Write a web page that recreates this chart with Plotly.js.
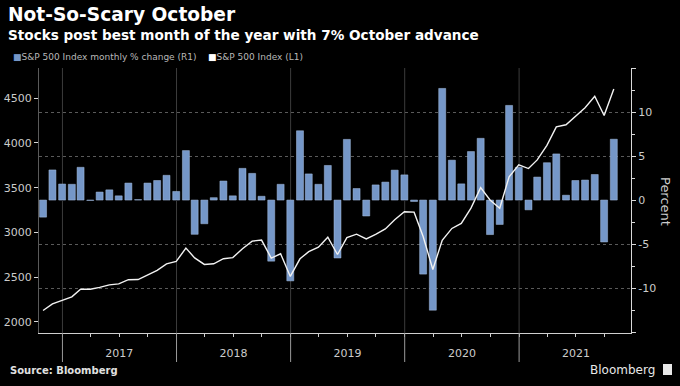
<!DOCTYPE html>
<html>
<head>
<meta charset="utf-8">
<script src="https://cdn.plot.ly/plotly-3.0.1.min.js"></script>
<style>
  html, body { margin: 0; padding: 0; background: #000; }
  #chart { width: 680px; height: 386px; }
</style>
</head>
<body>
<div id="chart"></div>
<script>
// ---- Data (month-end) ----
const months = [
  '2016-10-31','2016-11-30','2016-12-31',
  '2017-01-31','2017-02-28','2017-03-31','2017-04-30','2017-05-31','2017-06-30',
  '2017-07-31','2017-08-31','2017-09-30','2017-10-31','2017-11-30','2017-12-31',
  '2018-01-31','2018-02-28','2018-03-31','2018-04-30','2018-05-31','2018-06-30',
  '2018-07-31','2018-08-31','2018-09-30','2018-10-31','2018-11-30','2018-12-31',
  '2019-01-31','2019-02-28','2019-03-31','2019-04-30','2019-05-31','2019-06-30',
  '2019-07-31','2019-08-31','2019-09-30','2019-10-31','2019-11-30','2019-12-31',
  '2020-01-31','2020-02-29','2020-03-31','2020-04-30','2020-05-31','2020-06-30',
  '2020-07-31','2020-08-31','2020-09-30','2020-10-31','2020-11-30','2020-12-31',
  '2021-01-31','2021-02-28','2021-03-31','2021-04-30','2021-05-31','2021-06-30',
  '2021-07-31','2021-08-31','2021-09-30','2021-10-31'
];
// S&P 500 Index monthly % change (R1)
const pctChange = [
  -1.94, 3.42, 1.82,
  1.79, 3.72, -0.04, 0.91, 1.16, 0.48,
  1.93, 0.05, 1.93, 2.22, 2.81, 0.98,
  5.62, -3.89, -2.69, 0.27, 2.16, 0.48,
  3.60, 3.03, 0.43, -6.94, 1.79, -9.18,
  7.87, 2.97, 1.79, 3.93, -6.58, 6.89,
  1.31, -1.81, 1.72, 2.04, 3.40, 2.86,
  -0.16, -8.41, -12.51, 12.68, 4.53, 1.84,
  5.51, 7.01, -3.92, -2.77, 10.75, 3.71,
  -1.11, 2.61, 4.24, 5.24, 0.55, 2.22,
  2.27, 2.90, -4.76, 6.91
];
// S&P 500 Index (L1)
const spxIndex = [
  2126, 2199, 2239,
  2279, 2364, 2363, 2384, 2412, 2423,
  2470, 2472, 2519, 2575, 2648, 2674,
  2824, 2714, 2641, 2648, 2705, 2718,
  2816, 2902, 2914, 2712, 2760, 2507,
  2704, 2784, 2834, 2946, 2752, 2942,
  2980, 2926, 2977, 3038, 3141, 3231,
  3226, 2954, 2585, 2912, 3044, 3100,
  3271, 3500, 3363, 3270, 3622, 3756,
  3714, 3811, 3973, 4181, 4204, 4298,
  4395, 4523, 4308, 4605
];
const years = [2017, 2018, 2019, 2020, 2021];
const leftTicks = [2000, 2500, 3000, 3500, 4000, 4500];
const rightTicks = [-15, -10, -5, 0, 5, 10, 15];
const rightTickText = ['', '-10', '-5', '0', '5', '10', ''];

const titleText = 'Not-So-Scary October';
const subtitleText = 'Stocks post best month of the year with 7% October advance';
const seriesBarName = 'S&P 500 Index monthly % change (R1)';
const seriesLineName = 'S&P 500 Index (L1)';

// ---- Layout helpers (pixel -> paper) ----
const W = 680, H = 386;
const M = { l: 39, r: 49, t: 68, b: 53 };
const PW = W - M.l - M.r, PH = H - M.t - M.b;
const px = x => (x - M.l) / PW;
const py = y => (H - M.b - y) / PH;

const BAR = '#7597c8';
const FONT = 'DejaVu Sans';

const traces = [
  {
    type: 'bar', x: months, y: pctChange, yaxis: 'y', name: seriesBarName,
    marker: { color: BAR, line: { color: '#a8c0e2', width: 0.5 } },
    showlegend: false
  },
  {
    type: 'scatter', mode: 'lines', x: months, y: spxIndex, yaxis: 'y2', name: seriesLineName,
    line: { color: '#f2f2f2', width: 1.4 },
    showlegend: false
  }
];

const shapes = [];
years.forEach(y => {
  shapes.push({ type: 'line', xref: 'x', yref: 'paper', x0: y + '-01-01', x1: y + '-01-01',
    y0: 0, y1: 1, line: { color: '#3c3c3c', width: 1 }, layer: 'below' });
  shapes.push({ type: 'line', xref: 'x', yref: 'paper', x0: y + '-01-01', x1: y + '-01-01',
    y0: py(362), y1: 0, line: { color: '#9a9a9a', width: 1 } });
});
// Bloomberg logo box
shapes.push({ type: 'rect', xref: 'paper', yref: 'paper', x0: px(663), x1: px(672), y0: py(375), y1: py(364),
  fillcolor: '#e8e8e8', line: { width: 0 } });

const annotations = [
  { text: '<b>' + titleText + '</b>', x: px(6), y: py(14.5), xanchor: 'left', yanchor: 'middle',
    font: { family: FONT, size: 18.6, color: '#ffffff' } },
  { text: '<b>' + subtitleText + '</b>', x: px(6), y: py(35), xanchor: 'left', yanchor: 'middle',
    font: { family: FONT, size: 13.6, color: '#ffffff' } },
  { text: '<span style="color:' + BAR + '">■</span>' + seriesBarName, x: px(11), y: py(57.5),
    xanchor: 'left', yanchor: 'middle', font: { family: FONT, size: 9, color: '#b8b8b8' } },
  { text: '<span style="color:#ffffff">■</span>' + seriesLineName, x: px(206), y: py(57.5),
    xanchor: 'left', yanchor: 'middle', font: { family: FONT, size: 9, color: '#b8b8b8' } },
  { text: 'Percent', x: px(666), y: py(201), xanchor: 'center', yanchor: 'middle', textangle: 90,
    font: { family: FONT, size: 13, color: '#cccccc' } },
  { text: '<b>Source: Bloomberg</b>', x: px(8), y: py(370), xanchor: 'left', yanchor: 'middle',
    font: { family: FONT, size: 10, color: '#e0e0e0' } },
  { text: 'Bloomberg', x: px(657), y: py(370), xanchor: 'right', yanchor: 'middle',
    font: { family: FONT, size: 12, color: '#e8e8e8' } }
].map(a => Object.assign({ xref: 'paper', yref: 'paper', showarrow: false }, a));

const layout = {
  width: W, height: H,
  margin: M,
  paper_bgcolor: '#000', plot_bgcolor: '#000',
  font: { family: FONT, color: '#cccccc', size: 11 },
  bargap: 0.2,
  showlegend: false,
  xaxis: {
    type: 'date',
    range: ['2016-10-18', '2021-12-25'],
    tickmode: 'array',
    tickvals: years.map(y => y + '-07-02'),
    ticktext: years.map(String),
    ticks: '', ticklabelstandoff: 10,
    tickfont: { family: FONT, size: 11, color: '#cccccc' },
    showgrid: false, zeroline: false,
    showline: true, linecolor: '#cfcfcf', linewidth: 1,
    minor: { tickmode: 'linear', tick0: '2017-01-01', dtick: 'M3', ticks: 'outside', ticklen: 3,
      tickcolor: '#cfcfcf', showgrid: false }
  },
  yaxis: {
    side: 'right',
    range: [-15.1, 15],
    tickmode: 'array', tickvals: rightTicks, ticktext: rightTickText,
    ticks: 'outside', ticklen: 4, tickcolor: '#d8d8d8',
    tickfont: { family: FONT, size: 11, color: '#cccccc' },
    showline: true, linecolor: '#d8d8d8', linewidth: 1,
    showgrid: true, gridcolor: '#5a5a5a', griddash: 'dot', gridwidth: 1,
    zeroline: true, zerolinecolor: '#000000', zerolinewidth: 1,
    minor: { tickmode: 'linear', tick0: 0, dtick: 2.5, ticks: 'outside', ticklen: 3, tickcolor: '#d8d8d8', showgrid: false }
  },
  yaxis2: {
    overlaying: 'y', side: 'left',
    range: [1874, 4839],
    tickmode: 'array', tickvals: leftTicks,
    ticks: 'outside', ticklen: 4, tickcolor: '#d8d8d8',
    tickfont: { family: FONT, size: 11, color: '#cccccc' },
    showline: true, linecolor: '#5a5a5a', linewidth: 1,
    showgrid: false, zeroline: false
  },
  shapes: shapes,
  annotations: annotations
};

Plotly.newPlot('chart', traces, layout, { staticPlot: true, displayModeBar: false });
</script>
</body>
</html>
